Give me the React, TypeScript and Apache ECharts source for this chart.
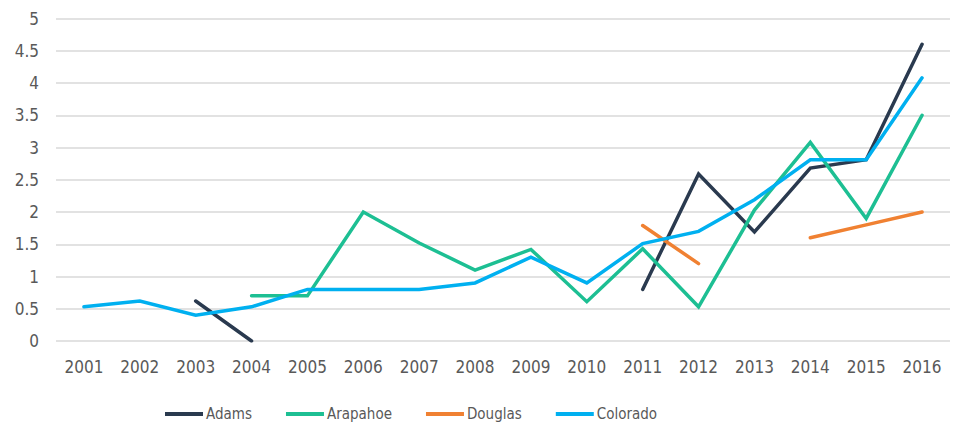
import React, { useEffect, useRef } from "react";
import * as echarts from "echarts";

const years = ["2001","2002","2003","2004","2005","2006","2007","2008","2009","2010","2011","2012","2013","2014","2015","2016"];
const adams = [null, null, 0.62, 0, null, null, null, null, null, null, 0.8, 2.59, 1.69, 2.68, 2.81, 4.6];
const arapahoe = [null, null, null, 0.7, 0.7, 2.0, 1.52, 1.1, 1.42, 0.61, 1.43, 0.53, 2.03, 3.08, 1.9, 3.5];
const douglas = [null, null, null, null, null, null, null, null, null, null, 1.79, 1.2, null, 1.6, 1.8, 2.0];
const colorado = [0.53, 0.62, 0.4, 0.53, 0.8, 0.8, 0.8, 0.9, 1.3, 0.9, 1.51, 1.7, 2.19, 2.81, 2.81, 4.08];

const FONT = "'Liberation Sans Narrow', 'DejaVu Sans Condensed', 'Arial Narrow', sans-serif";

export default function App() {
  const ref = useRef<HTMLDivElement>(null);
  useEffect(() => {
    const chart = echarts.init(ref.current!, null, { renderer: "svg" });
    const mk = (name: string, data: (number | null)[], color: string) => ({
      name,
      type: "line",
      data,
      symbol: "none",
      connectNulls: false,
      lineStyle: { color, width: 3.5, cap: "round", join: "miter" },
      itemStyle: { color },
    });
    chart.setOption({
      animation: false,
      grid: { left: 56, right: 9, top: 18.5, bottom: 84, containLabel: false },
      legend: {
        left: 165,
        top: 405,
        padding: 0,
        itemWidth: 38,
        itemHeight: 4,
        itemGap: 34,
        textStyle: { fontFamily: FONT, fontSize: 15, lineHeight: 18, color: "#595959", padding: [0, 0, 0, -2] },
        icon: "rect",
        data: ["Adams", "Arapahoe", "Douglas", "Colorado"],
      },
      xAxis: {
        type: "category",
        data: years,
        boundaryGap: true,
        axisLine: { show: false },
        axisTick: { show: false },
        axisLabel: { fontFamily: FONT, fontSize: 17, color: "#595959", margin: 17, interval: 0 },
      },
      yAxis: {
        type: "value",
        min: 0,
        max: 5,
        interval: 0.5,
        axisLine: { show: false },
        axisTick: { show: false },
        splitLine: { lineStyle: { color: "#d9d9d9", width: 1.5 } },
        axisLabel: { fontFamily: FONT, fontSize: 17, color: "#595959", margin: 17 },
      },
      series: [
        mk("Adams", adams, "#2a3a4f"),
        mk("Arapahoe", arapahoe, "#1dbf93"),
        mk("Douglas", douglas, "#f08132"),
        mk("Colorado", colorado, "#00b0f0"),
      ],
    });
    return () => chart.dispose();
  }, []);
  return <div ref={ref} style={{ width: 959, height: 425, position: "absolute", left: 0, top: 0 }} />;
}
